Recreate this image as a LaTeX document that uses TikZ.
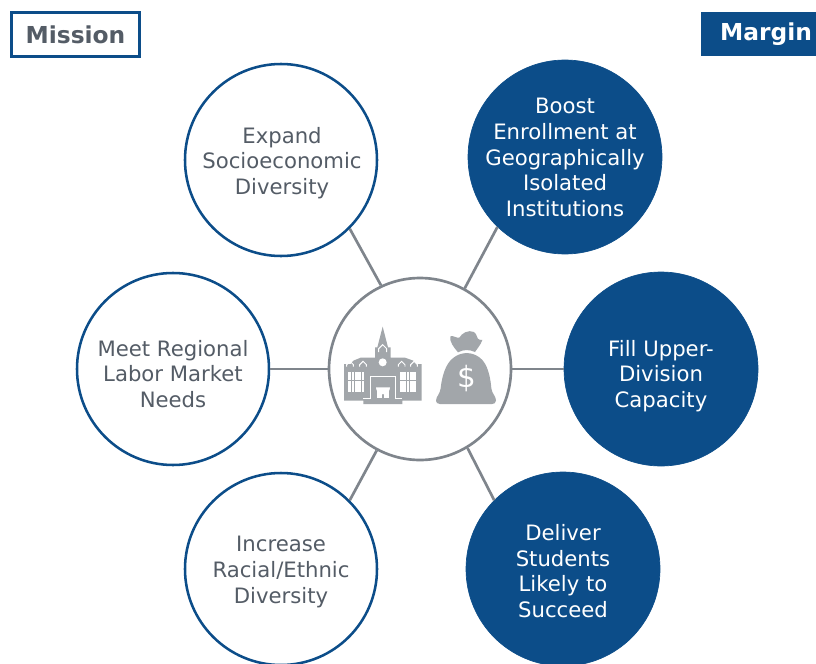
\documentclass[tikz,border=0pt]{standalone}
\usepackage{fontspec}
\setmainfont{DejaVu Sans}
\definecolor{navy}{HTML}{0C4D89}
\definecolor{inktext}{HTML}{545C66}
\definecolor{ringgray}{HTML}{7F858C}
\definecolor{icongray}{HTML}{A2A6AA}
\tikzset{
  missioncircle/.style={circle,inner sep=0pt,draw=navy,line width=1.9pt,fill=white,minimum size=144pt},
  margincircle/.style={circle,inner sep=0pt,draw=navy,fill=navy,line width=0.5pt,minimum size=145.5pt},
  goaltext/.style={inner sep=0pt,align=center,font=\fontsize{15.9pt}{19.3pt}\selectfont},
  hubcircle/.style={circle,draw=ringgray,line width=2pt,fill=white,minimum size=136.5pt,inner sep=0pt},
  link/.style={draw=ringgray,line width=2pt},
  icon/.style={fill=icongray,draw=none},
  iconcut/.style={fill=white,draw=none},
  iconline/.style={draw=white,line width=.7pt},
  tagtext/.style={font=\fontsize{17.5pt}{20pt}\selectfont\bfseries,inner sep=0pt}
}
\begin{document}
\begin{tikzpicture}[x=.75pt,y=-.75pt]
\useasboundingbox (0,0) rectangle (816,663);
\fill[white] (0,0) rectangle (816,663);
% nodes
\node[hubcircle] (hub) at (420,369) {};
\node[missioncircle] (tl) at (281,160) {};
\node[missioncircle] (ml) at (173,369) {};
\node[missioncircle] (bl) at (281,569) {};
\node[margincircle] (tr) at (565,157) {};
\node[margincircle] (mr) at (661,369) {};
\node[margincircle] (br) at (563,569) {};
\node[goaltext,text=inktext] (tltext) at (282,163) {Expand\\Socioeconomic\\Diversity};
\node[goaltext,text=inktext] (mltext) at (173,374) {Meet Regional\\Labor Market\\Needs};
\node[goaltext,text=inktext] (bltext) at (281,572) {Increase\\Racial/Ethnic\\Diversity};
\node[goaltext,text=white] (trtext) at (565,157.5) {Boost\\Enrollment at\\Geographically\\Isolated\\Institutions};
\node[goaltext,text=white] (mrtext) at (661,376) {Fill Upper-\\Division\\Capacity};
\node[goaltext,text=white] (brtext) at (563,571) {Deliver\\Students\\Likely to\\Succeed};
% connectors
\draw[link] (hub.115) -- (tl.-45);
\draw[link] (hub.180) -- (ml.0);
\draw[link] (hub.242.6) -- (bl.45);
\draw[link] (hub.61.5) -- (tr.226);
\draw[link] (hub.0) -- (mr.180);
\draw[link] (hub.-59) -- (br.135);
% tags
\node[draw=navy,line width=1.9pt,fill=white,text=inktext,tagtext,minimum width=96pt,minimum height=33pt] (mission) at (75.5,34.5) {Mission};
\fill[navy] (701,12) rectangle (816,56);
\node[text=white,tagtext] (margin) at (766,34.5) {Margin};
% building icon (coordinates are those of a 3x crop at 320,270)
\begin{scope}[shift={(320,270)},x=.25pt,y=-.25pt]
\fill[icon] (72,392) -- (72,282) -- (92,282) -- (100,272) -- (122,263) -- (165,263) -- (165,232) -- (172,232) -- (188,170) -- (204,232) -- (212,232) -- (212,263) -- (255,263) -- (280,272) -- (290,282) -- (305,282) -- (305,392) -- (247,392) -- (247,402) -- (130,402) -- (130,392) -- cycle;
\fill[iconcut] (188,277) circle (12);
\draw[iconline] (176,246) -- (176,236) -- (188,224) -- (200,236) -- (200,246);
\foreach \xx in {85,95,105,115,125,240,250,260,270,280}{
  \fill[iconcut] (\xx,307) rectangle ++(8,24);
  \fill[iconcut] (\xx,334) rectangle ++(8,31);
}
\foreach \xx in {90,129,245,282}{
  \draw[iconline] (\xx-10,290) -- (\xx-10,284) -- (\xx,274) -- (\xx+10,284) -- (\xx+10,290);
}
\draw[iconline] (130,385) -- (152,385) -- (152,320) -- (225,320) -- (225,385) -- (247,385);
\fill[iconcut] (168,352) arc[start angle=180,end angle=0,x radius=21,y radius=21] -- cycle;
\fill[iconcut] (172,356) rectangle (186,385);
\fill[iconcut] (191,356) rectangle (206,385);
% money bag
\fill[icon] (414,247) .. controls (400,230) and (388,215) .. (391,199)
  .. controls (398,195) and (410,205) .. (418,203)
  .. controls (425,190) and (445,178) .. (462,186)
  .. controls (472,192) and (470,208) .. (478,209)
  .. controls (481,208) and (485,208) .. (487,210)
  .. controls (482,225) and (472,235) .. (465,246)
  .. controls (448,238) and (430,238) .. (414,247) -- cycle;
\fill[icon] (402,262) .. controls (425,245) and (455,245) .. (478,262)
  .. controls (505,280) and (512,330) .. (514,355)
  .. controls (516,372) and (528,378) .. (528,392)
  .. controls (528,399) and (522,402) .. (516,402)
  -- (360,402)
  .. controls (352,402) and (348,398) .. (348,392)
  .. controls (349,378) and (360,372) .. (362,355)
  .. controls (365,325) and (375,280) .. (402,262) -- cycle;
\end{scope}
\node[text=white,inner sep=0pt,font=\fontsize{22pt}{24pt}\selectfont] (dollar) at (466.5,379) {\$};
\end{tikzpicture}
\end{document}
